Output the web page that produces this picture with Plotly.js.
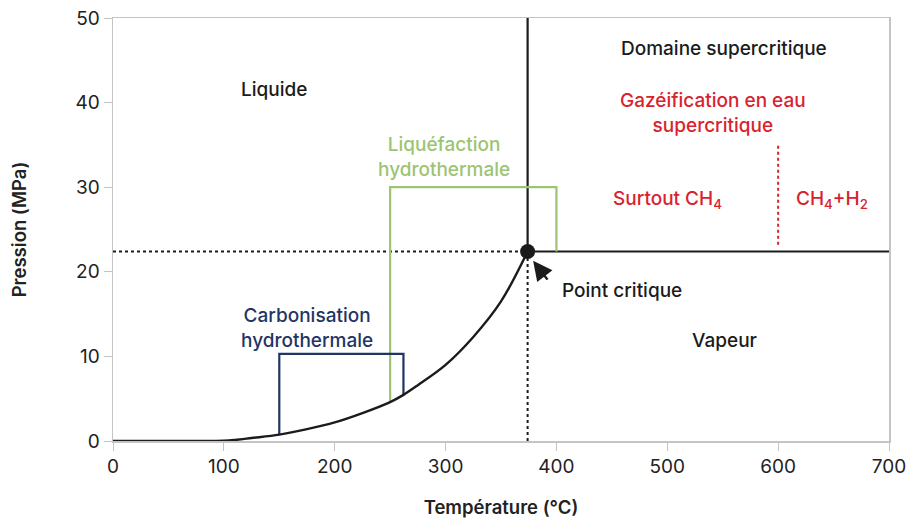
<!DOCTYPE html>
<html><head><meta charset="utf-8">
<script src="https://cdn.plot.ly/plotly-3.0.1.min.js"></script>
<style>body{margin:0;background:#fff}#c{width:906px;height:520px}</style>
</head><body><div id="c"></div>
<script>
// Saturation curve (liquid–vapour)
const curveT = [0, 50, 100, 110, 125, 150, 175, 200, 225, 250, 262, 275, 300, 325, 350, 374];
const curveP = [0, 0, 0.03, 0.12, 0.35, 0.75, 1.4, 2.2, 3.3, 4.6, 5.45, 6.6, 9.0, 12.3, 16.5, 22.4];
// Critical point
const critT = [374];
const critP = [22.4];
// Boxes
const carbT = [150, 150, 262, 262];
const carbP = [0.75, 10.3, 10.3, 5.45];
const liqT = [250, 250, 400, 400];
const liqP = [4.6, 30, 30, 22.4];
// Red separator
const gasT = [600, 600];
const gasP = [23.2, 35];
// Axis ticks
const xTicks = [0, 100, 200, 300, 400, 500, 600, 700];
const yTicks = [0, 10, 20, 30, 40, 50];

const black = '#1b1b1b', navy = '#1f3563', green = '#9cc472', red = '#d8232f';
const F = 'Inter, "Open Sans", sans-serif';

const traces = [
  {x: [0, critT[0]], y: [critP[0], critP[0]], mode: 'lines', line: {color: black, width: 2, dash: 'dot'}},
  {x: [critT[0], critT[0]], y: [0, critP[0]], mode: 'lines', line: {color: black, width: 2, dash: 'dot'}},
  {x: [critT[0], critT[0]], y: [critP[0], 50], mode: 'lines', line: {color: black, width: 2.2}},
  {x: [critT[0], 700], y: [critP[0], critP[0]], mode: 'lines', line: {color: black, width: 2.2}},
  {x: gasT, y: gasP, mode: 'lines', line: {color: red, width: 2, dash: 'dot'}},
  {x: liqT, y: liqP, mode: 'lines', line: {color: green, width: 2.2}},
  {x: carbT, y: carbP, mode: 'lines', line: {color: navy, width: 2.2}},
  {x: curveT, y: curveP, mode: 'lines', line: {color: black, width: 2.4, shape: 'spline', smoothing: 1}},
  {x: critT, y: critP, mode: 'markers', marker: {color: black, size: 15}}
];

const ann = (x, y, text, color) => ({x, y, xref: 'x', yref: 'y', text, showarrow: false,
  font: {family: F, size: 19, color, weight: 500}});

const annotations = [
  ann(145, 41.5, 'Liquide', black),
  ann(551, 46.4, 'Domaine supercritique', black),
  ann(541, 38.8, 'Gazéification en eau<br>supercritique', red),
  ann(500, 28.6, 'Surtout CH<sub>4</sub>', red),
  ann(649, 28.6, 'CH<sub>4</sub>+H<sub>2</sub>', red),
  ann(299, 33.6, 'Liquéfaction<br>hydrothermale', green),
  ann(175, 13.3, 'Carbonisation<br>hydrothermale', navy),
  ann(459, 17.8, 'Point critique', black),
  ann(552, 11.9, 'Vapeur', black),
  {x: 379, y: 21.3, xref: 'x', yref: 'y', ax: 393, ay: 18.9, axref: 'x', ayref: 'y',
   showarrow: true, arrowhead: 2, arrowsize: 1.6, arrowwidth: 2.4, arrowcolor: black, text: ''}
];

const layout = {
  width: 906, height: 520,
  margin: {l: 113, r: 17, t: 18, b: 79},
  paper_bgcolor: '#fff', plot_bgcolor: '#fff',
  showlegend: false,
  font: {family: F, color: '#222'},
  xaxis: {range: [0, 700], tickvals: xTicks, ticktext: xTicks.map(String), showgrid: false, zeroline: false,
    showline: true, linecolor: '#c4c4c4', linewidth: 1.5, mirror: true, ticks: 'outside', ticklen: 8,
    tickcolor: '#c4c4c4', tickfont: {size: 19, color: '#222'}, ticklabeloverflow: 'allow',
    title: {text: 'Température (°C)', font: {size: 18.5, weight: 600, color: '#222'}, standoff: 24}},
  yaxis: {range: [0, 50], tickvals: yTicks, ticktext: yTicks.map(String), showgrid: false, zeroline: false,
    showline: true, linecolor: '#c4c4c4', linewidth: 1.5, mirror: true, ticks: 'outside', ticklen: 8,
    tickcolor: '#c4c4c4', tickfont: {size: 19, color: '#222'}, ticklabeloverflow: 'allow',
    title: {text: 'Pression (MPa)', font: {size: 18.5, weight: 600, color: '#222'}, standoff: 44}},
  annotations
};

Plotly.newPlot('c', traces, layout, {staticPlot: true, displayModeBar: false});
</script></body></html>
